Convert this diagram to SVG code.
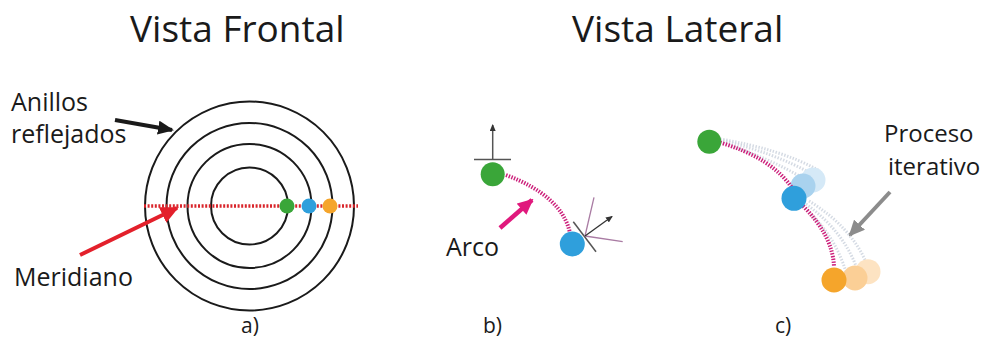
<svg xmlns="http://www.w3.org/2000/svg" width="990" height="341" viewBox="0 0 990 341">
<style>
text{font-family:"Open Sans","Liberation Sans",sans-serif;fill:#1a1a1a}
.title{font-size:37px}
.lbl{font-size:25px}
.lbl2{font-size:24px}
.sub{font-size:21px}
.ring{fill:none;stroke:#1a1a1a;stroke-width:2}
.mer{fill:none;stroke:#d9252b;stroke-width:3.5;stroke-dasharray:2 1.6}
.arc{fill:none;stroke:#cc1f7a;stroke-width:4;stroke-dasharray:1.4 1.4}
.ghost{fill:none;stroke:#c9d1dc;stroke-width:3;stroke-dasharray:1.4 1.6;opacity:.8}
.green{fill:#3aa639}.blue{fill:#2f9fdc}.orange{fill:#f5a52b}
</style>
<defs>
<marker id="hBlack" markerUnits="userSpaceOnUse" markerWidth="16" markerHeight="14" refX="14" refY="7" orient="auto"><path d="M0,0 L16,7 L0,14 Z" fill="#1a1a1a"/></marker>
<marker id="hRed" markerUnits="userSpaceOnUse" markerWidth="18" markerHeight="17" refX="16" refY="8.5" orient="auto"><path d="M0,0 L18,8.5 L0,17 Z" fill="#e3202b"/></marker>
<marker id="hMag" markerUnits="userSpaceOnUse" markerWidth="16" markerHeight="15" refX="14" refY="7.5" orient="auto"><path d="M0,0 L16,7.5 L0,15 Z" fill="#e0197d"/></marker>
<marker id="hGray" markerUnits="userSpaceOnUse" markerWidth="16" markerHeight="15" refX="14" refY="7.5" orient="auto"><path d="M0,0 L16,7.5 L0,15 Z" fill="#8c8c8c"/></marker>
<marker id="hSmall" markerUnits="userSpaceOnUse" markerWidth="7" markerHeight="6" refX="6" refY="3" orient="auto"><path d="M0,0 L7,3 L0,6 Z" fill="#333"/></marker>
</defs>

<text class="title" x="130" y="42">Vista Frontal</text>
<text class="title" x="572" y="42">Vista Lateral</text>

<g id="rings">
<circle class="ring" cx="249.5" cy="206" r="104.5"/>
<circle class="ring" cx="249.5" cy="206" r="83"/>
<circle class="ring" cx="249.5" cy="206" r="62"/>
<circle class="ring" cx="249.5" cy="206" r="38.5"/>
</g>
<g id="meridian">
<line class="mer" x1="144" y1="206" x2="358" y2="206"/>
<circle class="green" cx="287" cy="206" r="7.5"/>
<circle class="blue" cx="309" cy="206" r="7.5"/>
<circle class="orange" cx="330" cy="206" r="7.5"/>
</g>
<g id="label-anillos">
<text class="lbl" x="11" y="111">Anillos</text>
<text class="lbl" x="11" y="143">reflejados</text>
</g>
<g id="label-meridiano">
<text class="lbl" x="14" y="286">Meridiano</text>
</g>
<text class="sub" x="241" y="333">a)</text>

<g id="panel-b">
<line x1="474" y1="159.5" x2="511" y2="159.5" stroke="#555" stroke-width="1.5"/>
<line x1="492.7" y1="159.5" x2="492.7" y2="125" stroke="#555" stroke-width="1.5" marker-end="url(#hSmall)"/>
<path class="arc" d="M506,175 Q562,196 570,233"/>
<circle class="green" cx="492.7" cy="174.3" r="12"/>
<circle class="blue" cx="572.3" cy="244" r="12.5"/>
<line x1="573.3" y1="221.7" x2="596" y2="251.7" stroke="#555" stroke-width="1.5"/>
<line x1="585" y1="236" x2="594" y2="197.3" stroke="#a97ba3" stroke-width="1.3"/>
<line x1="585" y1="236" x2="622.7" y2="241.7" stroke="#a97ba3" stroke-width="1.3"/>
<line x1="585" y1="236" x2="612" y2="216.5" stroke="#333" stroke-width="1.3" marker-end="url(#hSmall)"/>
<text class="lbl" x="446" y="256">Arco</text>
</g>
<text class="sub" x="483" y="333">b)</text>

<g id="panel-c">
<path class="ghost" d="M720,142 Q770,158 806,180"/>
<path class="ghost" d="M720,140 Q775,153 812,174"/>
<path class="ghost" d="M720,139 Q780,149 818,170"/>
<path class="ghost" d="M803,206 Q835,235 846,272"/>
<path class="ghost" d="M806,204 Q842,230 856,266"/>
<path class="ghost" d="M809,201 Q850,226 866,262"/>
<circle cx="813" cy="180" r="12.5" fill="#d5e9f7"/>
<circle cx="803" cy="186" r="12.5" fill="#a9d2ee"/>
<circle cx="868" cy="271.7" r="12.5" fill="#fde3c2"/>
<circle cx="855" cy="278" r="12.5" fill="#fbcf96"/>
<path class="arc" d="M720,142.5 Q772,158 792,188"/>
<path class="arc" d="M803,206 Q833,236 834,267"/>
<circle class="green" cx="709.3" cy="141.7" r="12"/>
<circle class="blue" cx="794" cy="198.3" r="12.5"/>
<circle class="orange" cx="834" cy="280" r="12.5"/>
<text class="lbl2" x="884" y="142">Proceso</text>
<text class="lbl2" x="888" y="175">iterativo</text>
</g>
<text class="sub" x="775" y="333">c)</text>

<g id="connectors">
<line x1="115" y1="120" x2="172" y2="130" stroke="#1a1a1a" stroke-width="4" marker-end="url(#hBlack)"/>
<line x1="80" y1="255" x2="177" y2="208" stroke="#e3202b" stroke-width="4" marker-end="url(#hRed)"/>
<line x1="500" y1="228" x2="532" y2="200" stroke="#e0197d" stroke-width="4.5" marker-end="url(#hMag)"/>
<line x1="890" y1="192" x2="850" y2="235" stroke="#8c8c8c" stroke-width="4" marker-end="url(#hGray)"/>
</g>
</svg>
